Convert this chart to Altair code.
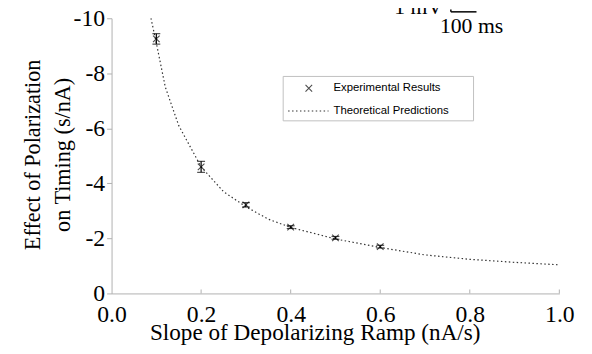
import altair as alt
import pandas as pd

# Experimental results (mean, error)
x_exp = [0.1, 0.2, 0.3, 0.4, 0.5, 0.6]
y_exp = [-9.25, -4.6, -3.22, -2.41, -2.02, -1.70]
err_exp = [0.19, 0.2, 0.08, 0.05, 0.05, 0.05]

# Theoretical predictions
x_th = [0.088, 0.1, 0.12, 0.15, 0.2, 0.25, 0.3, 0.35, 0.4, 0.5, 0.6, 0.7, 0.8, 0.9, 1.0]
y_th = [-10.0, -9.1, -7.5, -6.1, -4.6, -3.7, -3.15, -2.7, -2.4, -1.98, -1.67, -1.40, -1.24, -1.13, -1.04]

x_ticks = [0.0, 0.2, 0.4, 0.6, 0.8, 1.0]
y_ticks = [-10, -8, -6, -4, -2, 0]

legend_labels = ["Experimental Results", "Theoretical Predictions"]

W, H = 454, 279
SERIF = "Liberation Serif"
SANS = "Liberation Sans"

exp_df = pd.DataFrame({"x": x_exp, "y": y_exp, "lo": [y - e for y, e in zip(y_exp, err_exp)],
                       "hi": [y + e for y, e in zip(y_exp, err_exp)]})
th_df = pd.DataFrame({"x": x_th, "y": y_th})
tick_df = pd.DataFrame({"x": x_ticks[1:]})
one = pd.DataFrame({"a": [0]})

xs = alt.Scale(domain=[0, 1], nice=False)
ys = alt.Scale(domain=[-10, 0], reverse=True, nice=False)

xaxis = alt.Axis(values=x_ticks, format=".1f", ticks=False, grid=False,
                 domainColor="#b0b0b0", labelFont=SERIF, labelFontSize=24,
                 labelColor="black", labelPadding=28, labelBaseline="alphabetic",
                 labelFlush=False, labelOverlap=False,
                 title="Slope of Depolarizing Ramp (nA/s)", titleFont=SERIF,
                 titleFontSize=23.5, titleFontWeight="normal", titleColor="black",
                 titleX=206, titleY=47, titleBaseline="alphabetic", titleAlign="center")
yaxis = alt.Axis(values=y_ticks, grid=False, domainColor="#b0b0b0", tickColor="#b0b0b0",
                 tickSize=5, labelFont=SERIF, labelFontSize=24, labelColor="black",
                 labelPadding=2, labelOverlap=False, labelFlush=False,
                 labelExpr="datum.value < 0 ? '-' + format(-datum.value, 'd') : '0'",
                 title=["Effect of Polarization", "on Timing (s/nA)"], titleFont=SERIF,
                 titleFontSize=22.5, titleFontWeight="normal", titleColor="black",
                 titleLineHeight=30, titleX=-73, titleY=138, titleAngle=270,
                 titleBaseline="alphabetic", titleAlign="center")

curve = alt.Chart(th_df).mark_line(color="#333333", strokeDash=[1.5, 2.5], strokeWidth=1.2).encode(
    x=alt.X("x:Q", scale=xs, axis=xaxis),
    y=alt.Y("y:Q", scale=ys, axis=yaxis),
)

bars = alt.Chart(exp_df).mark_rule(color="black", strokeWidth=1.2).encode(
    x="x:Q", y="lo:Q", y2="hi:Q")
cap_lo = alt.Chart(exp_df).mark_tick(color="black", orient="horizontal", size=8, thickness=1.2).encode(
    x="x:Q", y="lo:Q")
cap_hi = alt.Chart(exp_df).mark_tick(color="black", orient="horizontal", size=8, thickness=1.2).encode(
    x="x:Q", y="hi:Q")
pts = alt.Chart(exp_df).mark_point(shape="M-1,-1L1,1M-1,1L1,-1", size=45, filled=False,
                                   color="black", strokeWidth=1.1).encode(x="x:Q", y="y:Q")

xticks = alt.Chart(tick_df).mark_rule(color="#b0b0b0").encode(
    x="x:Q", y=alt.value(H), y2=alt.value(H - 4))

# legend box
leg_box = alt.Chart(one).mark_rect(fill="white", stroke="#c0c0c0", strokeWidth=1).encode(
    x=alt.value(174), x2=alt.value(367), y=alt.value(59), y2=alt.value(104))
leg_pt = alt.Chart(one).mark_point(shape="M-1,-1L1,1M-1,1L1,-1", size=45, filled=False,
                                   color="black", strokeWidth=1.1).encode(
    x=alt.value(200), y=alt.value(71))
leg_line = alt.Chart(one).mark_rule(color="#333333", strokeDash=[1.5, 2.5], strokeWidth=1.2).encode(
    x=alt.value(179), x2=alt.value(220), y=alt.value(94))
leg_t1 = alt.Chart(one).mark_text(text=legend_labels[0], font=SANS, fontSize=11.5, align="left",
                                  baseline="middle", color="black").encode(
    x=alt.value(225), y=alt.value(71))
leg_t2 = alt.Chart(one).mark_text(text=legend_labels[1], font=SANS, fontSize=11.5, align="left",
                                  baseline="middle", color="black").encode(
    x=alt.value(225), y=alt.value(94))

# scale bar fragment at top right
sb_v = alt.Chart(one).mark_rule(color="black", strokeWidth=1.5).encode(
    x=alt.value(344), y=alt.value(-9), y2=alt.value(-6.5))
sb_h = alt.Chart(one).mark_rule(color="black", strokeWidth=1.5).encode(
    x=alt.value(344), x2=alt.value(370), y=alt.value(-6.5))
sb_t1 = alt.Chart(one).mark_text(text="100 ms", font=SERIF, fontSize=22, align="center",
                                 baseline="alphabetic", color="black").encode(
    x=alt.value(365), y=alt.value(15))
sb_t2 = alt.Chart(one).mark_text(text="1 mV", font=SERIF, fontSize=22, align="right",
                                 baseline="alphabetic", color="black").encode(
    x=alt.value(336), y=alt.value(-4))

chart = alt.layer(curve, bars, cap_lo, cap_hi, pts, xticks, leg_box, leg_pt, leg_line,
                  leg_t1, leg_t2, sb_v, sb_h, sb_t1, sb_t2).properties(
    width=W, height=H,
    padding={"left": 105, "top": 8, "right": 25, "bottom": 59},
    autosize=alt.AutoSizeParams(type="none"),
).configure_view(stroke=None)

chart.save("out.html", embed_options={"renderer": "svg", "actions": False})
